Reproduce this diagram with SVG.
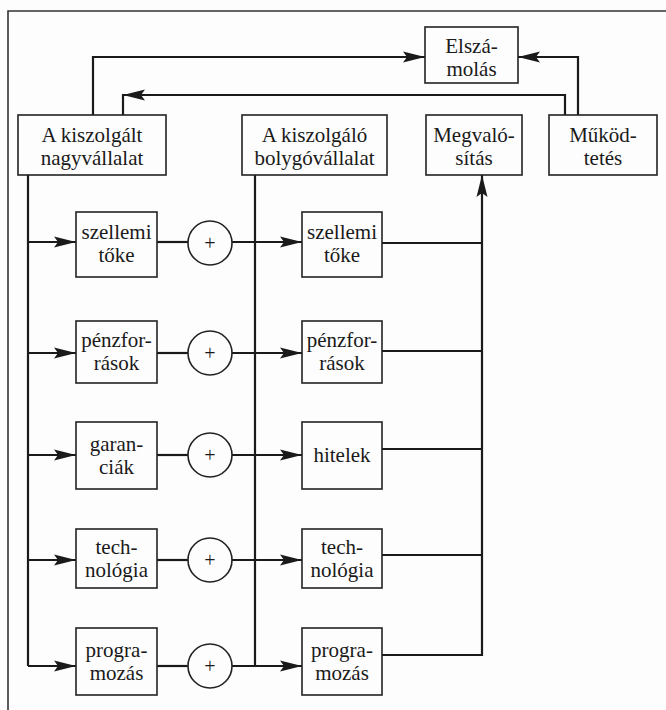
<svg xmlns="http://www.w3.org/2000/svg" width="666" height="710" viewBox="0 0 666 710">
<style>
.box{fill:none;stroke:#222;stroke-width:1.6}
.ln{fill:none;stroke:#1a1a1a;stroke-width:2.2}
.ar{fill:none;stroke:#1a1a1a;stroke-width:2.2;marker-end:url(#ah)}
.t{font-family:"Liberation Serif","Times New Roman",serif;font-size:21px;fill:#1a1a1a;text-anchor:middle}
.p{font-family:"Liberation Serif","Times New Roman",serif;font-size:20px;fill:#1a1a1a;text-anchor:middle}
.frame{fill:none;stroke:#333;stroke-width:1.6}
</style>
<defs>
<marker id="ah" markerUnits="userSpaceOnUse" markerWidth="24" markerHeight="12" refX="22" refY="6" orient="auto">
<path d="M0,0.5 L22,6 L0,11.5 L4,6 z" fill="#1a1a1a"/>
</marker>
</defs>
<rect x="0" y="0" width="666" height="710" fill="#fdfdfd"/>
<path class="frame" d="M8,710 V11 H666"/>

<g id="connectors">
<path class="ar" d="M93,115 V57 H425"/>
<path class="ar" d="M578,115 V57 H518"/>
<path class="ar" d="M565,115 V95 H123"/>
<path class="ln" d="M123,94 V115"/>
<path class="ln" d="M28,175 V666"/>
<path class="ln" d="M255,175 V666"/>
<path class="ar" d="M28,242 H76"/>
<path class="ar" d="M28,353 H76"/>
<path class="ar" d="M28,455 H76"/>
<path class="ar" d="M28,560 H76"/>
<path class="ar" d="M28,666 H76"/>
<path class="ln" d="M157,242 H188"/>
<path class="ln" d="M157,353 H188"/>
<path class="ln" d="M157,455 H188"/>
<path class="ln" d="M157,560 H188"/>
<path class="ln" d="M157,666 H188"/>
<path class="ar" d="M232,242 H302"/>
<path class="ar" d="M232,353 H302"/>
<path class="ar" d="M232,455 H302"/>
<path class="ar" d="M232,560 H302"/>
<path class="ar" d="M232,666 H302"/>
<path class="ln" d="M382,243 H482"/>
<path class="ln" d="M382,351 H482"/>
<path class="ln" d="M382,449 H482"/>
<path class="ln" d="M382,555 H482"/>
<path class="ln" d="M382,655 H482"/>
<path class="ar" d="M482,656 V175"/>
</g>

<g id="elszamolas"><rect class="box" x="425" y="27" width="93" height="56"/><text class="t" x="471.5" y="53">Elszá-</text><text class="t" x="471.5" y="76">molás</text></g>
<g id="kiszolgalt"><rect class="box" x="18" y="115" width="148" height="60"/><text class="t" x="92" y="142">A kiszolgált</text><text class="t" x="92" y="165">nagyvállalat</text></g>
<g id="kiszolgalo"><rect class="box" x="242" y="115" width="145" height="60"/><text class="t" x="314.5" y="142">A kiszolgáló</text><text class="t" x="314.5" y="165">bolygóvállalat</text></g>
<g id="megvalositas"><rect class="box" x="426" y="115" width="96" height="60"/><text class="t" x="474" y="142">Megvaló-</text><text class="t" x="474" y="165">sítás</text></g>
<g id="mukodtetes"><rect class="box" x="549" y="115" width="108" height="60"/><text class="t" x="603" y="142">Működ-</text><text class="t" x="603" y="165">tetés</text></g>

<g id="l1"><rect class="box" x="76" y="212" width="81" height="65"/><text class="t" x="116.5" y="239">szellemi</text><text class="t" x="116.5" y="262">tőke</text></g>
<g id="l2"><rect class="box" x="76" y="321" width="81" height="62"/><text class="t" x="116.5" y="347">pénzfor-</text><text class="t" x="116.5" y="370">rások</text></g>
<g id="l3"><rect class="box" x="76" y="422" width="81" height="67"/><text class="t" x="116.5" y="451">garan-</text><text class="t" x="116.5" y="474">ciák</text></g>
<g id="l4"><rect class="box" x="76" y="529" width="81" height="59"/><text class="t" x="116.5" y="554">tech-</text><text class="t" x="116.5" y="577">nológia</text></g>
<g id="l5"><rect class="box" x="76" y="628" width="81" height="67"/><text class="t" x="116.5" y="657">progra-</text><text class="t" x="116.5" y="680">mozás</text></g>

<g id="c1"><circle class="box" cx="210" cy="243" r="22"/><text class="p" x="210" y="250">+</text></g>
<g id="c2"><circle class="box" cx="210" cy="353" r="22"/><text class="p" x="210" y="360">+</text></g>
<g id="c3"><circle class="box" cx="210" cy="455" r="22"/><text class="p" x="210" y="462">+</text></g>
<g id="c4"><circle class="box" cx="210" cy="560" r="22"/><text class="p" x="210" y="567">+</text></g>
<g id="c5"><circle class="box" cx="210" cy="666" r="22"/><text class="p" x="210" y="673">+</text></g>

<g id="r1"><rect class="box" x="302" y="212" width="80" height="65"/><text class="t" x="342" y="239">szellemi</text><text class="t" x="342" y="262">tőke</text></g>
<g id="r2"><rect class="box" x="302" y="321" width="80" height="62"/><text class="t" x="342" y="347">pénzfor-</text><text class="t" x="342" y="370">rások</text></g>
<g id="r3"><rect class="box" x="302" y="422" width="80" height="67"/><text class="t" x="342" y="462">hitelek</text></g>
<g id="r4"><rect class="box" x="302" y="529" width="80" height="59"/><text class="t" x="342" y="554">tech-</text><text class="t" x="342" y="577">nológia</text></g>
<g id="r5"><rect class="box" x="302" y="628" width="80" height="67"/><text class="t" x="342" y="657">progra-</text><text class="t" x="342" y="680">mozás</text></g>
</svg>
